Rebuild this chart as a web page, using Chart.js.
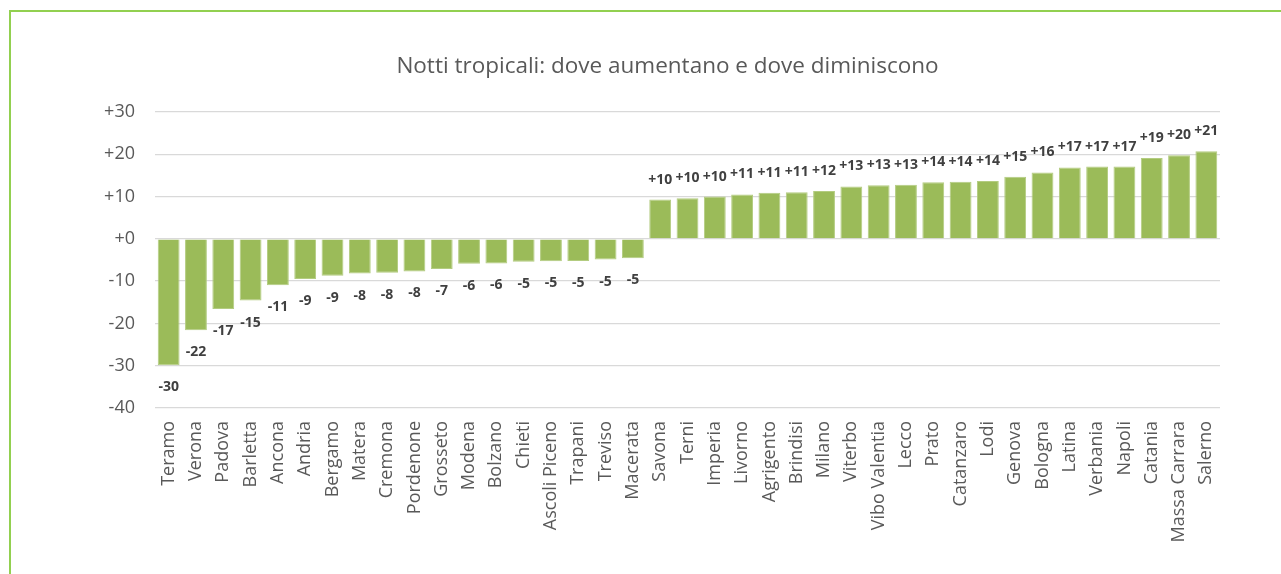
<!DOCTYPE html>
<html>
<head>
<meta charset="utf-8">
<script src="https://cdn.jsdelivr.net/npm/chart.js@4.4.1/dist/chart.umd.min.js"></script>
<style>
  html, body { margin: 0; padding: 0; background: #fff; }
  body { width: 1281px; height: 574px; position: relative; overflow: hidden; }
  #frame {
    position: absolute; left: 9px; top: 10px; width: 1400px; height: 700px;
    border-top: 2px solid #92d050; border-left: 2px solid #92d050;
  }
  #wrap { position: absolute; left: 0; top: 0; width: 1281px; height: 574px; }
</style>
</head>
<body>
<div id="frame"></div>
<div id="wrap"><canvas id="chart"></canvas></div>
<script>
"use strict";

// ── data ─────────────────────────────────
const cities = [
  "Teramo", "Verona", "Padova", "Barletta", "Ancona", "Andria", "Bergamo", "Matera",
  "Cremona", "Pordenone", "Grosseto", "Modena", "Bolzano", "Chieti", "Ascoli Piceno",
  "Trapani", "Treviso", "Macerata", "Savona", "Terni", "Imperia", "Livorno", "Agrigento",
  "Brindisi", "Milano", "Viterbo", "Vibo Valentia", "Lecco", "Prato", "Catanzaro", "Lodi",
  "Genova", "Bologna", "Latina", "Verbania", "Napoli", "Catania", "Massa Carrara", "Salerno"
];

const nightsDelta = [
  -29.9, -21.6, -16.6, -14.6, -11.0, -9.5, -8.7, -8.2,
  -8.0, -7.7, -7.1, -5.9, -5.8, -5.4, -5.3,
  -5.25, -4.9, -4.6, 9.3, 9.6, 10.0, 10.5, 10.9,
  11.0, 11.3, 12.4, 12.7, 12.8, 13.4, 13.5, 13.7,
  14.7, 15.7, 16.9, 17.1, 17.1, 19.1, 19.8, 20.7
];

// labels as printed on the chart
const shownLabels = [
  "-30", "-22", "-17", "-15", "-11", "-9", "-9", "-8",
  "-8", "-8", "-7", "-6", "-6", "-5", "-5",
  "-5", "-5", "-5", "+10", "+10", "+10", "+11", "+11",
  "+11", "+12", "+13", "+13", "+13", "+14", "+14", "+14",
  "+15", "+16", "+17", "+17", "+17", "+19", "+20", "+21"
];

const yTicks = [30, 20, 10, 0, -10, -20, -30, -40];

const chartTitle = "Notti tropicali: dove aumentano e dove diminiscono";

const FONT = "'Open Sans', 'DejaVu Sans', sans-serif";
const GREEN = "#9bbb59";

// ── title + bar value labels ─────────────
const overlayText = {
  id: "overlayText",
  afterDatasetsDraw(chart) {
    const ctx = chart.ctx;
    const meta = chart.getDatasetMeta(0);
    ctx.save();

    // title, centred over the frame rather than the plot
    ctx.font = "22.5px " + FONT;
    ctx.fillStyle = "#595959";
    ctx.textAlign = "center";
    ctx.textBaseline = "middle";
    ctx.fillText(chartTitle, 667.5, 67);

    ctx.font = "bold 14px " + FONT;
    ctx.fillStyle = "#404040";
    meta.data.forEach((bar, i) => {
      const v = nightsDelta[i];
      const y = v < 0 ? bar.y + 22 : bar.y - 20;
      ctx.fillText(shownLabels[i], bar.x, y);
    });
    ctx.restore();
  }
};

new Chart(document.getElementById("chart"), {
  type: "bar",
  data: {
    labels: cities,
    datasets: [{
      data: nightsDelta,
      backgroundColor: GREEN,
      borderColor: "#b3cc80",
      borderWidth: 1,
      barPercentage: 0.8,
      categoryPercentage: 1
    }]
  },
  options: {
    responsive: true,
    maintainAspectRatio: false,
    animation: false,
    layout: { padding: { left: 0, right: 61, top: 112, bottom: 0 } },
    plugins: {
      legend: { display: false },
      tooltip: { enabled: false },
      title: { display: false }
    },
    scales: {
      x: {
        grid: { display: false },
        border: { display: false },
        ticks: {
          autoSkip: false,
          maxRotation: 90,
          minRotation: 90,
          padding: 5,
          color: "#595959",
          font: { family: FONT, size: 18 }
        },
        afterFit(scale) { scale.height = 166; }
      },
      y: {
        min: -40,
        max: 30,
        afterBuildTicks(scale) { scale.ticks = yTicks.map((v) => ({ value: v })); },
        grid: { color: "#d9d9d9", lineWidth: 1.3, drawTicks: false },
        border: { display: false },
        ticks: {
          padding: 20,
          color: "#595959",
          font: { family: FONT, size: 18 },
          callback: (v) => (v >= 0 ? "+" + v : String(v))
        },
        afterFit(scale) { scale.width = 155; }
      }
    }
  },
  plugins: [overlayText]
});
</script>
</body>
</html>
